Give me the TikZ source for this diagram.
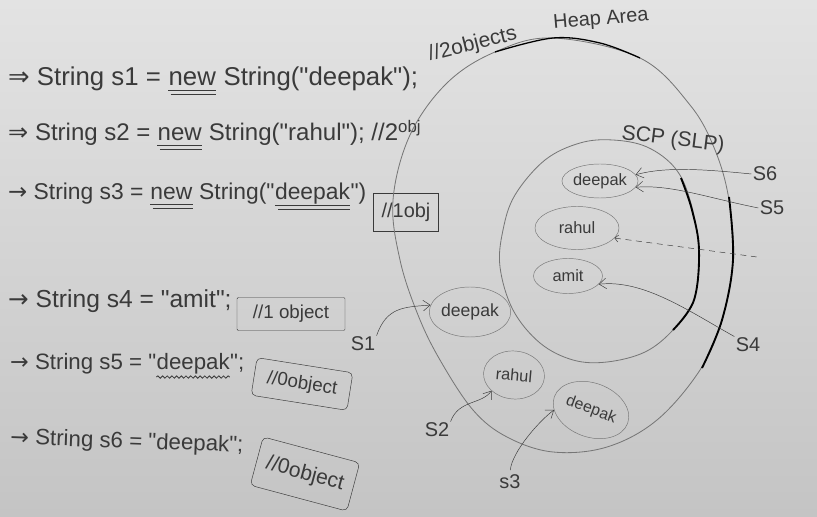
\documentclass[tikz,border=0pt]{standalone}
\usepackage{fontspec}
\setmainfont{Liberation Sans}
\newfontfamily\arrowfont{DejaVu Sans}
\usetikzlibrary{shapes.geometric, arrows.meta, positioning, decorations.pathmorphing}
\definecolor{ink}{HTML}{3A3A3A}
\definecolor{pen}{HTML}{767676}
\definecolor{boardtop}{HTML}{E3E3E3}
\definecolor{boardbot}{HTML}{C4C4C4}
\newcommand{\pxu}{0.03cm}
\newcommand{\fs}[1]{\fontsize{#1}{#1}\selectfont}
\newcommand{\qt}{\textquotedbl}
\newcommand{\gap}{\kern0.28em}
\tikzset{
  code/.style={inner sep=0pt, anchor=base west, text=ink, font=\fs{21}},
  note/.style={draw=ink, inner sep=2pt, text=ink, font=\fs{16}},
  strobj/.style={ellipse, draw=pen, inner sep=0pt, text=ink, font=\fs{14}},
  refname/.style={text=ink, inner sep=1pt, font=\fs{17}},
  ptr/.style={draw=ink, -{Straight Barb[length=6pt,width=9pt]}},
  thinloop/.style={draw=pen, line width=0.7pt},
  inkloop/.style={draw=black, line width=1.6pt},
  uline/.style={draw=ink, line width=0.7pt}
}

\begin{document}
\begin{tikzpicture}[x=\pxu, y=-\pxu]
% Board
    \shade[top color=boardtop, bottom color=boardbot] (0,0) rectangle (817,517);
    \useasboundingbox (0,0) rectangle (817,517);
% Code lines
    \node[code, font=\fs{22}] (la1) at (8,86) {{\arrowfont ⇒} String s1 =\gap};
    \node[code, font=\fs{22}] (lanew) at (la1.base east) {new};
    \node[code, font=\fs{22}] (la2) at (lanew.base east) {\gap String(\qt deepak\qt);};
    \node[code, font=\fs{18}, rotate=14] (lanote) at (430,61) {//2objects};
    \node[code, font=\fs{20.5}] (lb1) at (8,141) {{\arrowfont ⇒} String s2 =\gap};
    \node[code, font=\fs{20.5}] (lbnew) at (lb1.base east) {new};
    \node[code, font=\fs{20.5}] (lb2) at (lbnew.base east) {\gap String(\qt rahul\qt); //2\textsuperscript{obj}};
    \node[code, font=\fs{19.5}] (lc1) at (8,200) {{\arrowfont →} String s3 =\gap};
    \node[code, font=\fs{19.5}] (lcnew) at (lc1.base east) {new};
    \node[code, font=\fs{19.5}] (lc2) at (lcnew.base east) {\gap String(\qt};
    \node[code, font=\fs{19.5}] (lcdeep) at (lc2.base east) {deepak};
    \node[code, font=\fs{19.5}] (lc3) at (lcdeep.base east) {\qt)};
    \node[code] (ld1) at (8,308) {{\arrowfont →} String s4 = \qt amit\qt;};
    \node[code, font=\fs{19}] (le1) at (10,370) {{\arrowfont →} String s5 = \qt};
    \node[code, font=\fs{19}] (ledeep) at (le1.base east) {deepak};
    \node[code, font=\fs{19}] (le2) at (ledeep.base east) {\qt;};
    \node[code, font=\fs{19}, rotate=-2] (lf1) at (10,444) {{\arrowfont →} String s6 = \qt deepak\qt;};
% Underlines
    \draw[uline] ([yshift=-4pt]lanew.base west) -- ([yshift=-4pt]lanew.base east);
    \draw[uline] ([yshift=-7pt, xshift=2pt]lanew.base west) -- ([yshift=-7pt]lanew.base east);
    \draw[uline] ([yshift=-4pt]lbnew.base west) -- ([yshift=-4pt]lbnew.base east);
    \draw[uline] ([yshift=-7pt, xshift=2pt]lbnew.base west) -- ([yshift=-7pt]lbnew.base east);
    \draw[uline] ([yshift=-4pt]lcnew.base west) -- ([yshift=-4pt]lcnew.base east);
    \draw[uline] ([yshift=-7pt, xshift=2pt]lcnew.base west) -- ([yshift=-7pt]lcnew.base east);
    \draw[uline] ([yshift=-5pt]lcdeep.base west) -- ([yshift=-5pt]lcdeep.base east);
    \draw[uline] ([yshift=-8pt, xshift=3pt]lcdeep.base west) -- ([yshift=-8pt]lcdeep.base east);
    \draw[uline, decorate, decoration={snake, amplitude=1pt, segment length=4pt}]
        ([yshift=-6pt]ledeep.base west) -- ([yshift=-6pt]ledeep.base east);
% Object counts
    \node[note, font=\fs{17}, minimum width=65*\pxu, minimum height=38*\pxu] (nc) at (406,212) {//1obj};
    \node[note, rounded corners=1pt, minimum width=108*\pxu, minimum height=33*\pxu] (nd) at (291,314) {//1 object};
    \node[note, rounded corners=4pt, rotate=-9, minimum width=97*\pxu, minimum height=38*\pxu] (ne) at (302,384) {//0object};
    \node[note, rounded corners=4pt, rotate=-15, font=\fs{18}, minimum width=100*\pxu, minimum height=50*\pxu] (nf) at (305,474) {//0object};
% Heap area
    \draw[thinloop] plot[smooth cycle, tension=0.6] coordinates {(553,38) (640,58) (690,105) (715,150)
        (729,200) (733,260) (722,320) (700,370) (657,420) (607,447) (553,452) (507,437) (473,410)
        (440,360) (418,315) (400,260) (393,200) (410,135) (447,83) (495,52)};
    \draw[inkloop, line width=1.1pt] plot[smooth, tension=0.6] coordinates {(495,52) (553,38) (600,43) (640,58)};
    \draw[inkloop] plot[smooth, tension=0.6] coordinates {(729,197) (733,260) (722,320) (702,368)};
    \node[text=ink, font=\fs{17}, rotate=5] (heap) at (601,20) {Heap Area};
% String constant pool
    \draw[thinloop] plot[smooth cycle, tension=0.6] coordinates {(613,140) (647,147) (675,168) (690,200)
        (699,250) (694,300) (673,330) (645,352) (607,362) (573,360) (540,343) (513,310) (500,267)
        (503,230) (515,195) (545,160) (580,143)};
    \draw[inkloop] plot[smooth, tension=0.6] coordinates {(681,178) (692,210) (699,250) (694,300) (673,330)};
    \node[text=ink, font=\fs{18}, rotate=-7] (scp) at (673,140) {SCP (SLP)};
% Objects
    \node[strobj, minimum width=75*\pxu, minimum height=34*\pxu] (pdeep) at (600,181) {deepak};
    \node[strobj, minimum width=84*\pxu, minimum height=43*\pxu] (prahul) at (577,228) {rahul};
    \node[strobj, minimum width=69*\pxu, minimum height=35*\pxu] (pamit) at (568,276) {amit};
    \node[strobj, minimum width=71*\pxu, minimum height=50*\pxu, font=\fs{15}] (hdeepa) at (470,312) {deepak};
    \node[strobj, minimum width=61*\pxu, minimum height=48*\pxu, rotate=-5] (hrahul) at (514,375) {rahul};
    \node[strobj, minimum width=78*\pxu, minimum height=54*\pxu, rotate=-20, font=\fs{13.5}] (hdeepb) at (591,410) {deepak};
% References
    \node[refname] (rs1) at (363,344) {S1};
    \node[refname] (rs2) at (437,430) {S2};
    \node[refname] (rs3) at (510,482) {s3};
    \node[refname] (rs4) at (748,345) {S4};
    \node[refname] (rs5) at (772,208) {S5};
    \node[refname] (rs6) at (765,174) {S6};
    \draw[ptr] (rs1.north east) .. controls +(10,-28) and +(-28,2) .. (hdeepa.170);
    \draw[ptr] (rs2.north east) .. controls +(8,-22) and +(-10,14) .. (hrahul.220);
    \draw[ptr, shorten <=3pt] (rs3.north) .. controls +(2,-22) and +(-14,10) .. (hdeepb.200);
    \draw[ptr] (rs4.north west) .. controls +(-45,-25) and +(45,-5) .. (pamit.-15);
    \draw[ptr] (rs5.west) .. controls +(-50,-10) and +(35,-3) .. (pdeep.-10);
    \draw[ptr] (rs6.west) .. controls +(-50,-5) and +(30,-8) .. (pdeep.10);
    \coordinate (dashend) at (757,257);
    \draw[draw=ink, dash pattern=on 5pt off 4pt, arrows={Straight Barb[length=3pt,width=6pt]-}] (prahul.-15) -- (dashend);
\end{tikzpicture}
\end{document}
